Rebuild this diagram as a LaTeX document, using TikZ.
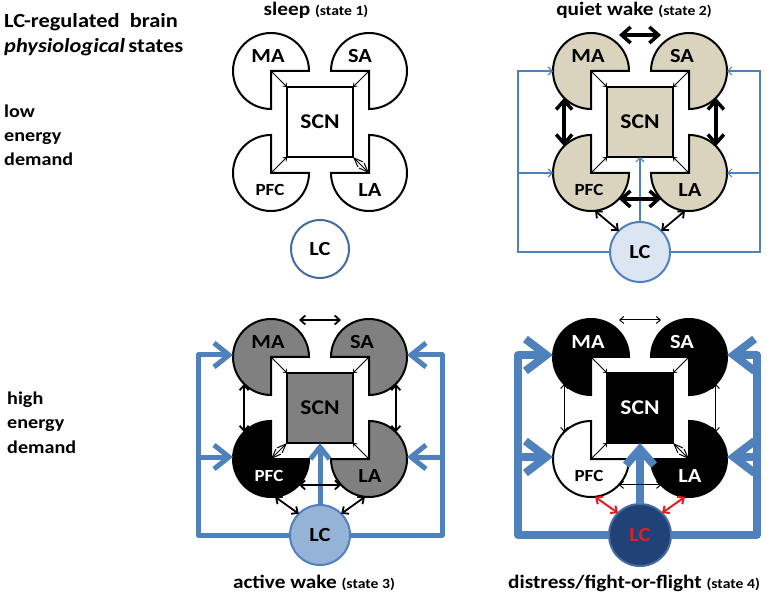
\documentclass[tikz,border=0pt]{standalone}
\usepackage{fontspec}
\setmainfont{Carlito}[FakeStretch=1.12]
\usetikzlibrary{arrows.meta}

\definecolor{lobetan}{RGB}{218,212,190}
\definecolor{lobegray}{RGB}{128,128,128}
\definecolor{lcblue}{RGB}{79,129,189}
\definecolor{lcpale}{RGB}{220,230,242}
\definecolor{lcmid}{RGB}{149,179,215}
\definecolor{lcdark}{RGB}{33,66,118}
\definecolor{lcedge}{RGB}{68,108,160}
\definecolor{alarmred}{RGB}{228,28,36}

\newcommand{\statefont}{\fontsize{14}{16}\selectfont}

% lobe with one quarter cut out: name, position, start angle, fill
\newcommand{\lobe}[4]{%
  \node[lobebase] (#1) at #2 {};
  \draw[lobeline, fill=#4] (#1.center) -- (#1.#3)
    arc[start angle=#3, delta angle=270, radius=38pt] -- cycle;
}

\begin{document}
\begin{tikzpicture}[x=1pt, y=1pt,
    lobebase/.style={circle, minimum size=76pt, inner sep=0pt, outer sep=0pt},
    lobeline/.style={line width=2pt, draw=black, line join=miter},
    lobetext/.style={font=\fontsize{20}{22}\selectfont\bfseries},
    pfctext/.style={font=\fontsize{17}{20}\selectfont\bfseries},
    scnbox/.style={draw, line width=2.4pt, minimum width=66pt, minimum height=70pt,
      inner sep=0pt, outer sep=0pt, font=\fontsize{21}{24}\selectfont\bfseries},
    lcnode/.style={circle, draw=lcblue, line width=2pt, minimum size=60pt,
      inner sep=0pt, outer sep=0pt, font=\fontsize{20}{22}\selectfont\bfseries},
    headtext/.style={font=\fontsize{20}{24}\selectfont\bfseries, inner sep=0pt, anchor=base west},
    sidetext/.style={font=\fontsize{18}{20}\selectfont\bfseries, inner sep=0pt, anchor=base west},
    titletext/.style={font=\fontsize{19}{22}\selectfont\bfseries, inner sep=0pt, anchor=base},
    cornerarrow/.style={<->, line width=0.8pt, >={Straight Barb[length=3pt,width=5pt]}},
    cornerknot/.style={<->, line width=1pt, >={Straight Barb[length=9pt,width=7pt]}},
    thicklink/.style={<->, line width=3.5pt, >={Straight Barb[length=9pt,width=16pt]}},
    midlink/.style={<->, line width=1.8pt, >={Straight Barb[length=5pt,width=9pt]}},
    thinlink/.style={<->, line width=1pt, >={Straight Barb[length=4pt,width=7pt]}},
    redlink/.style={<->, draw=alarmred, line width=2pt, >={Straight Barb[length=5pt,width=9pt]}},
    feedthin/.style={->, draw=lcblue, line width=1.2pt, >={Straight Barb[length=4pt,width=8pt]}},
    feedmid/.style={->, draw=lcblue, line width=5pt, line join=round, >={Straight Barb[length=15pt,width=24pt]}},
    feedbold/.style={->, draw=lcblue, line width=8pt, line join=round, >={Straight Barb[length=21pt,width=32pt]}}
  ]
  \useasboundingbox (0,0) rectangle (767,594);

  % side texts
  \node[headtext] (head1) at (4,566) {LC-regulated\ \ brain};
  \node[headtext] (head2) at (4,541) {\textit{physiological}\,states};
  \node[sidetext] (low1) at (4,476) {low};
  \node[sidetext] (low2) at (4,452) {energy};
  \node[sidetext] (low3) at (4,428) {demand};
  \node[sidetext] (high1) at (7,189) {high};
  \node[sidetext] (high2) at (7,165) {energy};
  \node[sidetext] (high3) at (7,141) {demand};

  % titles
  \node[titletext] (title1) at (316,578) {sleep {\statefont(state 1)}};
  \node[titletext] (title2) at (634,578) {quiet wake {\statefont(state 2)}};
  \node[titletext] (title3) at (314,6) {active wake {\statefont(state 3)}};
  \node[titletext] (title4) at (634,6) {distress/fight-or-flight {\statefont(state 4)}};

  % state 1: sleep
  \begin{scope}[shift={(320,472)}]
    \lobe{s1MA}{(-49,51)}{0}{white}
    \lobe{s1SA}{(49,51)}{270}{white}
    \lobe{s1PFC}{(-49,-51)}{90}{white}
    \lobe{s1LA}{(49,-51)}{180}{white}
    \node[scnbox, fill=white] (s1SCN) at (0,0) {SCN};
    \node[lcnode, draw=lcedge, minimum size=58pt, fill=white] (s1LC) at (0,-127) {LC};
    \draw[cornerarrow] (s1MA.center) -- (s1SCN.north west);
    \draw[cornerarrow] (s1SA.center) -- (s1SCN.north east);
    \draw[cornerarrow] (s1PFC.center) -- (s1SCN.south west);
    \draw[cornerknot] (s1LA.center) -- (s1SCN.south east);
    \node[lobetext] (s1MAlab) at (-52,66) {MA};
    \node[lobetext] (s1SAlab) at (40,66) {SA};
    \node[pfctext] (s1PFClab) at (-50,-68) {PFC};
    \node[lobetext] (s1LAlab) at (50,-68) {LA};
  \end{scope}

  % state 2: quiet wake
  \begin{scope}[shift={(640,472)}]
    \lobe{s2MA}{(-49,51)}{0}{lobetan}
    \lobe{s2SA}{(49,51)}{270}{lobetan}
    \lobe{s2PFC}{(-49,-51)}{90}{lobetan}
    \lobe{s2LA}{(49,-51)}{180}{lobetan}
    \node[scnbox, fill=lobetan] (s2SCN) at (0,0) {SCN};
    \node[lcnode, fill=lcpale] (s2LC) at (0,-130) {LC};
    \coordinate (s2Ltop) at (-122,51);
    \coordinate (s2Lmid) at (-122,-51);
    \coordinate (s2Rtop) at (120,51);
    \coordinate (s2Rmid) at (120,-51);
    \draw[feedthin] (s2LC.west) -| (s2Ltop) -- (s2MA.west);
    \draw[feedthin] (s2Lmid) -- (s2PFC.west);
    \draw[feedthin] (s2LC.east) -| (s2Rtop) -- (s2SA.east);
    \draw[feedthin] (s2Rmid) -- (s2LA.east);
    \draw[feedthin] (s2LC.north) -- (s2SCN.south);
    \draw[thicklink] ([shift={(28,-2)}]s2MA.north) -- ([shift={(-28,-2)}]s2SA.north);
    \draw[thicklink] (s2PFC.-43) -- (s2LA.-137);
    \draw[thicklink] (s2MA.225) -- (s2PFC.135);
    \draw[thicklink] (s2SA.315) -- (s2LA.45);
    \draw[midlink] (s2PFC.-84) -- (s2LC.135);
    \draw[midlink] (s2LA.-96) -- (s2LC.45);
    \draw[cornerarrow] (s2MA.center) -- (s2SCN.north west);
    \draw[cornerarrow] (s2SA.center) -- (s2SCN.north east);
    \draw[cornerarrow] (s2PFC.center) -- (s2SCN.south west);
    \draw[cornerarrow] (s2LA.center) -- (s2SCN.south east);
    \node[lobetext] (s2MAlab) at (-52,66) {MA};
    \node[lobetext] (s2SAlab) at (42,66) {SA};
    \node[pfctext] (s2PFClab) at (-51,-68) {PFC};
    \node[lobetext] (s2LAlab) at (50,-68) {LA};
  \end{scope}

  % state 3: active wake
  \begin{scope}[shift={(320,186)}]
    \lobe{s3MA}{(-49,51)}{0}{lobegray}
    \lobe{s3SA}{(49,51)}{270}{lobegray}
    \lobe{s3PFC}{(-49,-51)}{90}{black}
    \lobe{s3LA}{(49,-51)}{180}{lobegray}
    \node[scnbox, fill=lobegray] (s3SCN) at (0,0) {SCN};
    \node[lcnode, fill=lcmid] (s3LC) at (0,-127) {LC};
    \coordinate (s3Ltop) at (-122,53);
    \coordinate (s3Lmid) at (-122,-49);
    \coordinate (s3Rtop) at (122,53);
    \coordinate (s3Rmid) at (122,-49);
    \draw[feedmid] (s3LC.west) -| (s3Ltop) -- (s3MA.west |- s3Ltop);
    \draw[feedmid] (s3Lmid) -- (s3PFC.west |- s3Lmid);
    \draw[feedmid] (s3LC.east) -| (s3Rtop) -- (s3SA.east |- s3Rtop);
    \draw[feedmid] (s3Rmid) -- (s3LA.east |- s3Rmid);
    \draw[feedmid, >={Straight Barb[length=12pt,width=19pt]}] (s3LC.north) -- (s3SCN.south);
    \draw[midlink] ([shift={(28,-1)}]s3MA.north) -- ([shift={(-28,-1)}]s3SA.north);
    \draw[midlink] (s3PFC.-43) -- (s3LA.-137);
    \draw[midlink] (s3MA.225) -- (s3PFC.135);
    \draw[midlink] (s3SA.315) -- (s3LA.45);
    \draw[midlink] (s3PFC.-84) -- (s3LC.135);
    \draw[midlink] (s3LA.-96) -- (s3LC.45);
    \draw[cornerarrow] (s3MA.center) -- (s3SCN.north west);
    \draw[cornerarrow] (s3SA.center) -- (s3SCN.north east);
    \draw[cornerknot] (s3PFC.center) -- (s3SCN.south west);
    \draw[cornerarrow] (s3LA.center) -- (s3SCN.south east);
    \node[lobetext] (s3MAlab) at (-52,66) {MA};
    \node[lobetext] (s3SAlab) at (42,66) {SA};
    \node[pfctext, text=white] (s3PFClab) at (-51,-68) {PFC};
    \node[lobetext] (s3LAlab) at (50,-68) {LA};
  \end{scope}

  % state 4: distress / fight-or-flight
  \begin{scope}[shift={(640,186)}]
    \lobe{s4MA}{(-49,51)}{0}{black}
    \lobe{s4SA}{(49,51)}{270}{black}
    \lobe{s4PFC}{(-49,-51)}{90}{white}
    \lobe{s4LA}{(49,-51)}{180}{black}
    \node[scnbox, fill=black, text=white] (s4SCN) at (0,0) {SCN};
    \node[lcnode, draw=lcedge, fill=lcdark, text=alarmred, minimum size=62pt] (s4LC) at (0,-127) {LC};
    \coordinate (s4Ltop) at (-122,53);
    \coordinate (s4Lmid) at (-122,-49);
    \coordinate (s4Rtop) at (117,53);
    \coordinate (s4Rmid) at (117,-49);
    \draw[feedbold] (s4LC.west) -| (s4Ltop) -- (s4MA.west |- s4Ltop);
    \draw[feedbold] (s4Lmid) -- (s4PFC.west |- s4Lmid);
    \draw[feedbold] (s4LC.east) -| (s4Rtop) -- (s4SA.east |- s4Rtop);
    \draw[feedbold] (s4Rmid) -- (s4LA.east |- s4Rmid);
    \draw[feedbold, >={Straight Barb[length=16pt,width=28pt]}] (s4LC.north) -- (s4SCN.south);
    \draw[thinlink] ([shift={(28,-1)}]s4MA.north) -- ([shift={(-28,-1)}]s4SA.north);
    \draw[thinlink] (s4PFC.-43) -- (s4LA.-137);
    \draw[thinlink] (s4MA.225) -- (s4PFC.135);
    \draw[thinlink] (s4SA.315) -- (s4LA.45);
    \draw[redlink] (s4PFC.-84) -- (s4LC.135);
    \draw[redlink] (s4LA.-96) -- (s4LC.45);
    \draw[cornerarrow] (s4MA.center) -- (s4SCN.north west);
    \draw[cornerarrow] (s4SA.center) -- (s4SCN.north east);
    \draw[cornerarrow] (s4PFC.center) -- (s4SCN.south west);
    \draw[cornerknot] (s4LA.center) -- (s4SCN.south east);
    \node[lobetext, text=white] (s4MAlab) at (-52,66) {MA};
    \node[lobetext, text=white] (s4SAlab) at (42,66) {SA};
    \node[pfctext] (s4PFClab) at (-51,-68) {PFC};
    \node[lobetext, text=white] (s4LAlab) at (50,-68) {LA};
  \end{scope}
\end{tikzpicture}
\end{document}
